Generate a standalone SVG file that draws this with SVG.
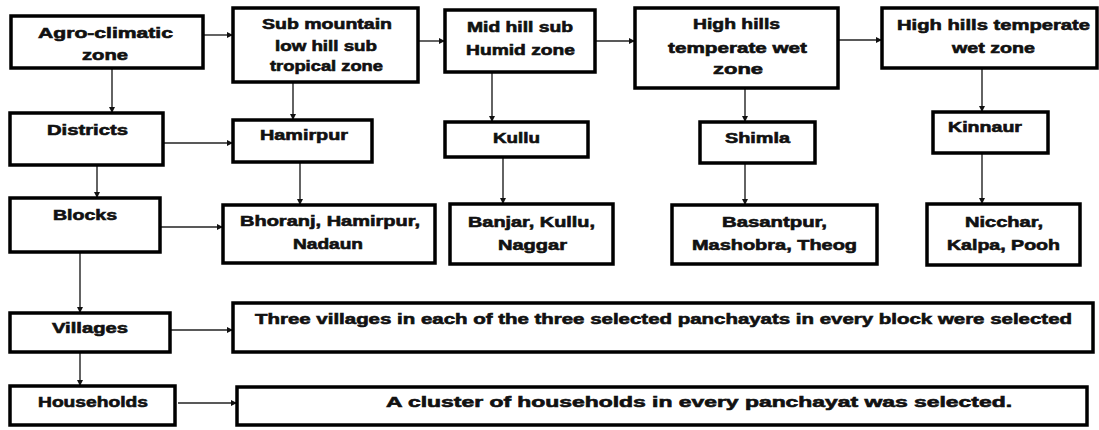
<svg xmlns="http://www.w3.org/2000/svg" width="1099" height="430" viewBox="0 0 1099 430">
<style>
.box{fill:#fff;stroke:#000;stroke-width:3.5}
.t{font-family:"Liberation Sans",Arial,sans-serif;font-weight:bold;font-size:14.5px;fill:#111;stroke:#111;stroke-width:0.6}
.c{stroke:#222;stroke-width:1.4;fill:none;marker-end:url(#ah)}
</style>
<defs>
<marker id="ah" viewBox="0 0 10 10" refX="10" refY="5" markerWidth="6" markerHeight="6" markerUnits="userSpaceOnUse" orient="auto">
<path d="M0,0 L10,5 L0,10 z" fill="#111"/>
</marker>
</defs>
<rect width="1099" height="430" fill="#fff"/>
<g id="connectors">
<line class="c" x1="203" y1="35" x2="233" y2="35"/>
<line class="c" x1="418" y1="41" x2="445" y2="41"/>
<line class="c" x1="595" y1="41" x2="635" y2="41"/>
<line class="c" x1="838" y1="40" x2="882" y2="40"/>
<line class="c" x1="112" y1="68" x2="112" y2="113"/>
<line class="c" x1="293" y1="82" x2="293" y2="120"/>
<line class="c" x1="492" y1="72" x2="492" y2="122"/>
<line class="c" x1="745" y1="88" x2="745" y2="122"/>
<line class="c" x1="982" y1="68" x2="982" y2="112"/>
<line class="c" x1="163" y1="143" x2="233" y2="143"/>
<line class="c" x1="97" y1="165" x2="97" y2="198"/>
<line class="c" x1="300" y1="162" x2="300" y2="205"/>
<line class="c" x1="503" y1="157" x2="503" y2="204"/>
<line class="c" x1="745" y1="163" x2="745" y2="205"/>
<line class="c" x1="982" y1="153" x2="982" y2="204"/>
<line class="c" x1="160" y1="227" x2="223" y2="227"/>
<line class="c" x1="80" y1="252" x2="80" y2="313"/>
<line class="c" x1="170" y1="330" x2="233" y2="330"/>
<line class="c" x1="80" y1="352" x2="80" y2="386"/>
<line class="c" x1="178" y1="403" x2="237" y2="403"/>
</g>
<g id="agro">
<rect class="box" x="11" y="16" width="192" height="52"/>
<text class="t" x="38" y="37.5" textLength="135" lengthAdjust="spacingAndGlyphs">Agro-climatic</text>
<text class="t" x="82" y="60" textLength="46" lengthAdjust="spacingAndGlyphs">zone</text>
</g>
<g id="submountain">
<rect class="box" x="233" y="8" width="185" height="74"/>
<text class="t" x="262" y="29" textLength="130" lengthAdjust="spacingAndGlyphs">Sub mountain</text>
<text class="t" x="275" y="51" textLength="102" lengthAdjust="spacingAndGlyphs">low hill sub</text>
<text class="t" x="270" y="71" textLength="113" lengthAdjust="spacingAndGlyphs">tropical zone</text>
</g>
<g id="midhill">
<rect class="box" x="445" y="10" width="150" height="62"/>
<text class="t" x="467" y="32" textLength="106" lengthAdjust="spacingAndGlyphs">Mid hill sub</text>
<text class="t" x="466" y="55" textLength="109" lengthAdjust="spacingAndGlyphs">Humid zone</text>
</g>
<g id="highhills1">
<rect class="box" x="635" y="8" width="203" height="80"/>
<text class="t" x="693" y="29" textLength="87" lengthAdjust="spacingAndGlyphs">High hills</text>
<text class="t" x="668" y="53" textLength="139" lengthAdjust="spacingAndGlyphs">temperate wet</text>
<text class="t" x="713" y="74" textLength="50" lengthAdjust="spacingAndGlyphs">zone</text>
</g>
<g id="highhills2">
<rect class="box" x="882" y="8" width="215" height="60"/>
<text class="t" x="897" y="30" textLength="193" lengthAdjust="spacingAndGlyphs">High hills temperate</text>
<text class="t" x="952" y="53" textLength="83" lengthAdjust="spacingAndGlyphs">wet zone</text>
</g>
<g id="districts">
<rect class="box" x="10" y="113" width="153" height="52"/>
<text class="t" x="47" y="135" textLength="81" lengthAdjust="spacingAndGlyphs">Districts</text>
</g>
<g id="hamirpur">
<rect class="box" x="233" y="120" width="139" height="42"/>
<text class="t" x="260" y="140" textLength="88" lengthAdjust="spacingAndGlyphs">Hamirpur</text>
</g>
<g id="kullu">
<rect class="box" x="445" y="122" width="143" height="35"/>
<text class="t" x="493" y="143" textLength="47" lengthAdjust="spacingAndGlyphs">Kullu</text>
</g>
<g id="shimla">
<rect class="box" x="700" y="122" width="115" height="41"/>
<text class="t" x="725" y="143" textLength="65" lengthAdjust="spacingAndGlyphs">Shimla</text>
</g>
<g id="kinnaur">
<rect class="box" x="933" y="112" width="115" height="41"/>
<text class="t" x="948" y="132" textLength="74" lengthAdjust="spacingAndGlyphs">Kinnaur</text>
</g>
<g id="blocks">
<rect class="box" x="10" y="198" width="150" height="54"/>
<text class="t" x="53" y="220" textLength="64" lengthAdjust="spacingAndGlyphs">Blocks</text>
</g>
<g id="bhoranj">
<rect class="box" x="223" y="205" width="212" height="58"/>
<text class="t" x="240" y="226" textLength="180" lengthAdjust="spacingAndGlyphs">Bhoranj, Hamirpur,</text>
<text class="t" x="293" y="249" textLength="70" lengthAdjust="spacingAndGlyphs">Nadaun</text>
</g>
<g id="banjar">
<rect class="box" x="450" y="204" width="163" height="60"/>
<text class="t" x="468" y="227" textLength="127" lengthAdjust="spacingAndGlyphs">Banjar, Kullu,</text>
<text class="t" x="498" y="250" textLength="69" lengthAdjust="spacingAndGlyphs">Naggar</text>
</g>
<g id="basantpur">
<rect class="box" x="672" y="205" width="205" height="59"/>
<text class="t" x="722" y="227" textLength="105" lengthAdjust="spacingAndGlyphs">Basantpur,</text>
<text class="t" x="692" y="250" textLength="165" lengthAdjust="spacingAndGlyphs">Mashobra, Theog</text>
</g>
<g id="nicchar">
<rect class="box" x="927" y="204" width="153" height="61"/>
<text class="t" x="965" y="227" textLength="78" lengthAdjust="spacingAndGlyphs">Nicchar,</text>
<text class="t" x="947" y="250" textLength="113" lengthAdjust="spacingAndGlyphs">Kalpa, Pooh</text>
</g>
<g id="villages">
<rect class="box" x="10" y="313" width="160" height="39"/>
<text class="t" x="52" y="333" textLength="76" lengthAdjust="spacingAndGlyphs">Villages</text>
</g>
<g id="villages-note">
<rect class="box" x="233" y="303" width="860" height="49"/>
<text class="t" x="255" y="324" textLength="817" lengthAdjust="spacingAndGlyphs">Three villages in each of the three selected panchayats in every block were selected</text>
</g>
<g id="households">
<rect class="box" x="10" y="386" width="165" height="39"/>
<text class="t" x="38" y="407" textLength="110" lengthAdjust="spacingAndGlyphs">Households</text>
</g>
<g id="households-note">
<rect class="box" x="237" y="387" width="850" height="38"/>
<text class="t" x="386" y="407" textLength="626" lengthAdjust="spacingAndGlyphs">A cluster of households in every panchayat was selected.</text>
</g>
</svg>
